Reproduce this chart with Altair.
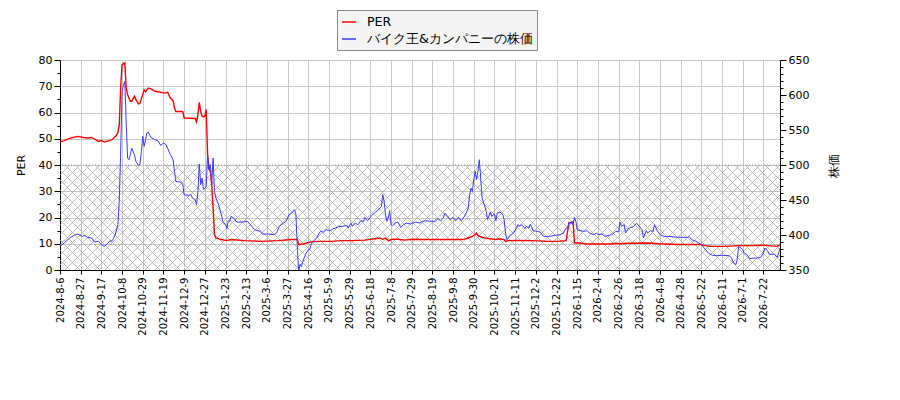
import json
import altair as alt
import pandas as pd

# ---------------- data ----------------
date_labels = ["2024-8-6", "2024-8-27", "2024-9-17", "2024-10-8", "2024-10-29", "2024-11-19",
               "2024-12-9", "2024-12-27", "2025-1-23", "2025-2-13", "2025-3-6", "2025-3-27",
               "2025-4-16", "2025-5-9", "2025-5-29", "2025-6-18", "2025-7-8", "2025-7-29",
               "2025-8-19", "2025-9-8", "2025-9-30", "2025-10-21", "2025-11-11", "2025-12-2",
               "2025-12-22", "2026-1-15", "2026-2-4", "2026-2-26", "2026-3-18", "2026-4-8",
               "2026-4-28", "2026-5-22", "2026-6-11", "2026-7-1", "2026-7-22"]
tick_days = list(range(0, 511, 15))
last_day = 522

per_day = [0, 3, 8, 13, 17, 20, 23, 25, 28, 30,
           32, 36, 38, 41, 42, 43, 44, 45, 47, 48,
           49, 51, 52, 54, 55, 57, 58, 60, 61, 62,
           64, 66, 69, 72, 76, 78, 80, 82, 83, 84,
           89, 90, 98, 99, 100, 101, 102, 103, 105, 106,
           107, 108, 109, 110, 111, 112, 113, 117, 121, 124,
           134, 146, 158, 168, 172, 173, 176, 179, 182, 187,
           197, 204, 211, 221, 228, 232, 234, 236, 238, 241,
           245, 250, 255, 264, 284, 292, 296, 299, 301, 302,
           303, 306, 308, 312, 316, 318, 322, 323, 325, 333,
           342, 354, 361, 367, 368, 369, 372, 373, 376, 382,
           400, 403, 406, 412, 427, 434, 448, 464, 467, 471,
           482, 492, 502, 510, 514, 520, 522]
per_val = [48.8, 49.3, 50.3, 50.9, 50.5, 50.3, 50.5, 49.9, 49.0, 49.3,
           48.8, 49.3, 49.8, 51.3, 52.5, 55.5, 70.0, 78.2, 78.9, 69.3,
           66.8, 64.3, 64.3, 66.2, 64.9, 63.2, 63.6, 66.8, 68.7, 67.8,
           69.3, 69.0, 68.1, 67.8, 67.4, 67.7, 65.5, 64.5, 61.7, 60.4,
           60.4, 57.9, 57.7, 56.4, 59.2, 63.9, 60.4, 58.5, 58.5, 61.1,
           44.0, 38.5, 37.6, 32.5, 23.6, 13.5, 12.2, 11.6, 11.2, 11.6,
           11.2, 10.9, 11.2, 11.6, 11.6, 9.7, 9.9, 10.3, 10.7, 10.9,
           10.9, 11.2, 11.2, 11.4, 11.9, 12.2, 11.7, 12.2, 11.2, 11.7,
           11.7, 11.4, 11.7, 11.6, 11.6, 11.6, 12.2, 12.8, 13.5, 14.1,
           13.2, 12.4, 12.2, 11.9, 11.6, 11.9, 11.6, 10.9, 11.2, 11.3,
           11.2, 10.9, 10.9, 11.2, 14.7, 17.9, 18.3, 10.3, 10.3, 9.9,
           9.9, 10.2, 10.0, 10.2, 10.3, 10.0, 9.7, 9.7, 9.4, 9.0,
           9.0, 9.3, 9.3, 9.4, 9.3, 9.0, 9.7]

price_day = [0, 3, 7, 11, 13, 16, 18, 20, 23, 25,
             28, 30, 32, 34, 36, 38, 40, 42, 43, 44,
             45, 46, 47, 48, 49, 50, 51, 52, 54, 55,
             57, 58, 59, 60, 61, 62, 63, 64, 66, 69,
             71, 73, 75, 77, 78, 80, 82, 83, 84, 87,
             89, 90, 93, 95, 96, 98, 99, 100, 101, 102,
             103, 104, 105, 106, 107, 108, 109, 110, 111, 112,
             113, 115, 117, 118, 120, 121, 122, 123, 124, 126,
             128, 132, 136, 139, 141, 145, 147, 151, 155, 157,
             159, 162, 164, 166, 168, 170, 171, 172, 173, 174,
             175, 176, 177, 178, 180, 181, 182, 183, 186, 188,
             189, 191, 193, 196, 198, 200, 202, 205, 208, 209,
             211, 212, 214, 216, 218, 220, 221, 223, 225, 226,
             228, 231, 233, 234, 235, 236, 237, 238, 239, 240,
             241, 243, 245, 247, 249, 251, 254, 256, 258, 261,
             263, 266, 268, 272, 274, 276, 278, 279, 281, 283,
             285, 287, 289, 291, 294, 296, 297, 298, 299, 300,
             301, 302, 303, 304, 305, 306, 308, 309, 310, 312,
             313, 315, 316, 317, 319, 321, 322, 323, 324, 326,
             328, 330, 332, 333, 335, 337, 338, 340, 341, 343,
             346, 348, 350, 351, 355, 359, 363, 365, 367, 368,
             369, 370, 371, 372, 373, 374, 375, 377, 380, 382,
             384, 387, 389, 390, 393, 395, 398, 400, 403, 405,
             406, 407, 409, 410, 412, 413, 416, 418, 420, 422,
             423, 425, 426, 428, 430, 431, 433, 435, 438, 441,
             446, 451, 455, 456, 458, 461, 463, 465, 468, 470,
             473, 476, 480, 485, 487, 488, 490, 491, 492, 493,
             495, 496, 498, 500, 503, 505, 508, 510, 511, 513,
             514, 516, 518, 520, 521, 522]
price_val = [383.8, 388.6, 395.7, 400.5, 401.4, 398.0, 399.5, 396.6, 395.7, 390.0,
             391.0, 386.2, 383.8, 387.0, 391.0, 392.0, 400.5, 414.7, 450.0, 520.0,
             605.0, 614.7, 619.4, 560.0, 510.0, 507.6, 514.7, 524.0, 514.7, 505.0,
             499.5, 501.4, 519.5, 540.9, 526.6, 536.0, 545.6, 547.0, 539.4, 536.0,
             534.7, 528.0, 531.4, 529.0, 524.0, 514.7, 507.6, 491.0, 476.6, 475.7,
             472.8, 457.6, 456.6, 457.6, 452.8, 450.4, 443.3, 462.3, 501.4, 471.9,
             481.4, 465.0, 467.0, 470.0, 514.7, 493.3, 500.4, 471.9, 510.0, 462.3,
             452.8, 443.3, 429.0, 419.5, 414.7, 409.0, 420.4, 419.5, 426.6, 424.3,
             418.5, 418.5, 419.5, 412.3, 407.6, 405.2, 401.4, 401.4, 400.5, 402.8,
             412.3, 417.0, 419.5, 429.0, 431.4, 436.2, 430.0, 386.0, 347.0, 358.0,
             355.0, 362.0, 367.0, 372.0, 379.0, 379.0, 386.0, 390.0, 395.7, 402.8,
             405.2, 404.0, 407.6, 406.0, 409.0, 410.0, 412.3, 412.3, 413.8, 410.0,
             417.0, 412.3, 417.0, 414.7, 420.4, 419.5, 425.2, 420.4, 425.2, 428.0,
             431.4, 436.2, 441.0, 457.6, 448.0, 429.0, 419.5, 424.3, 434.7, 414.7,
             413.3, 417.0, 418.5, 411.0, 414.7, 417.0, 415.7, 417.0, 418.5, 417.0,
             419.5, 420.4, 419.5, 419.5, 423.3, 420.4, 424.3, 431.4, 426.6, 421.9,
             425.2, 420.4, 425.2, 420.4, 429.0, 438.5, 457.6, 467.0, 462.3, 479.0,
             491.0, 479.0, 491.0, 507.6, 481.4, 452.8, 441.0, 433.8, 421.9, 432.8,
             426.6, 430.0, 420.4, 431.4, 432.8, 429.0, 421.9, 402.8, 393.3, 398.0,
             401.4, 406.2, 414.7, 412.3, 414.7, 409.0, 412.3, 410.0, 415.7, 406.2,
             405.2, 404.3, 399.0, 398.0, 398.0, 399.5, 400.5, 402.8, 410.0, 410.0,
             418.5, 417.0, 419.5, 414.7, 425.2, 419.5, 407.6, 406.2, 405.2, 406.2,
             402.8, 400.5, 402.8, 400.5, 401.4, 398.0, 399.5, 400.5, 405.2, 404.3,
             418.5, 412.3, 414.7, 402.8, 409.0, 410.0, 412.3, 417.0, 412.3, 407.6,
             395.7, 406.2, 402.8, 406.2, 405.2, 414.7, 406.2, 400.5, 398.0, 398.0,
             397.0, 396.6, 396.6, 398.0, 393.3, 391.0, 388.6, 386.2, 379.0, 374.3,
             371.0, 370.5, 371.0, 370.5, 367.0, 361.4, 357.6, 364.8, 383.8, 382.4,
             379.0, 374.3, 372.0, 366.2, 367.0, 367.0, 368.0, 374.3, 381.4, 377.6,
             372.8, 372.0, 372.8, 368.0, 374.3, 381.4]

PER_NAME = "PER"
PRICE_NAME = "バイク王&カンパニーの株価"
hatch_top = 40  # PER level of the hatched band

# ---------------- layout ----------------
W, H = 720, 210
FONT = "DejaVu Sans"

per_df = pd.DataFrame({"day": per_day, "value": per_val, "series": PER_NAME})
price_df = pd.DataFrame({"day": price_day, "value": price_val, "series": PRICE_NAME})

# cross-hatch pattern for the 0-40 band (45 degree lines, ~10 px apart)
px_per_day = W / last_day
run = (H * hatch_top / 80) / px_per_day
step = 10 / px_per_day
rows = []
k = -run
while k < last_day + step:
    rows.append({"x": k, "x2": k + run, "y": 0, "y2": hatch_top})
    rows.append({"x": k, "x2": k + run, "y": hatch_top, "y2": 0})
    k += step
hatch_df = pd.DataFrame(rows)

labels_js = json.dumps(date_labels, ensure_ascii=False)

xscale = alt.Scale(domain=[0, last_day], nice=False, zero=False)
per_scale = alt.Scale(domain=[0, 80], nice=False)
price_scale = alt.Scale(domain=[350, 650], nice=False, zero=False)

xaxis = alt.Axis(values=tick_days,
                 labelExpr=f"{labels_js}[round(datum.value/15)]",
                 labelAngle=270, labelAlign="right", labelBaseline="middle",
                 labelFlush=False, labelOverlap=False, labelFontSize=10,
                 labelPadding=3, tickSize=4, grid=True, gridColor="#c8c8c8",
                 title=None)

per_axis = alt.Axis(title="PER", values=list(range(0, 81, 5)),
                    labelExpr="datum.value % 10 === 0 ? datum.label : ''",
                    tickSize={"condition": {"test": "datum.value % 10 === 0", "value": 6}, "value": 3},
                    gridOpacity={"condition": {"test": "datum.value % 10 === 0", "value": 1}, "value": 0},
                    grid=True, gridColor="#c8c8c8", labelFontSize=11,
                    titleFontSize=11, titleFontWeight="normal", titlePadding=12)

price_axis = alt.Axis(title="株価", orient="right", values=list(range(350, 651, 10)),
                      labelExpr="datum.value % 50 === 0 ? datum.label : ''",
                      tickSize={"condition": {"test": "datum.value % 50 === 0", "value": 6}, "value": 3},
                      grid=False, labelFontSize=11, titleFontSize=12,
                      titleFontWeight="normal", titleAngle=270, titlePadding=32)

color = alt.Color("series:N",
                  scale=alt.Scale(domain=[PER_NAME, PRICE_NAME], range=["#ff0000", "#3a3aff"]),
                  legend=alt.Legend(title=None, orient="none", legendX=277, legendY=-50,
                                    direction="vertical", symbolType="stroke", symbolSize=196,
                                    symbolStrokeWidth=1.5, labelFontSize=12.6, labelOffset=10,
                                    labelLimit=400, labelFont=FONT, padding=4, rowPadding=2,
                                    fillColor="#f5f5f5", strokeColor="#888888"))

hatch = alt.Chart(hatch_df).mark_rule(color="#a0a0a0", strokeWidth=0.7, clip=True).encode(
    x=alt.X("x:Q", scale=xscale, axis=xaxis),
    x2="x2:Q",
    y=alt.Y("y:Q", scale=per_scale, axis=per_axis),
    y2="y2:Q",
)

top_edge = alt.Chart(pd.DataFrame({"y": [hatch_top]})).mark_rule(
    color="#a0a0a0", strokeDash=[1, 2], strokeWidth=1).encode(
    y=alt.Y("y:Q", scale=per_scale, axis=per_axis),
)

per_line = alt.Chart(per_df).mark_line(strokeWidth=1.4, clip=True).encode(
    x=alt.X("day:Q", scale=xscale, axis=xaxis),
    y=alt.Y("value:Q", scale=per_scale, axis=per_axis),
    color=color,
)

price_line = alt.Chart(price_df).mark_line(strokeWidth=1, clip=True).encode(
    x=alt.X("day:Q", scale=xscale, axis=xaxis),
    y=alt.Y("value:Q", scale=price_scale, axis=price_axis),
    color=color,
)

left = alt.layer(hatch, top_edge, per_line)

chart = alt.layer(left, price_line).resolve_scale(y="independent").properties(
    width=W, height=H,
    autosize=alt.AutoSizeParams(type="none"),
    padding={"left": 52, "top": 52, "right": 104, "bottom": 112},
).configure_view(stroke=None).configure_axis(
    labelFont=FONT, titleFont=FONT, labelColor="black", titleColor="black",
    domainColor="black", tickColor="black",
).configure_legend(labelColor="black")

chart.save("out.html", embed_options={"renderer": "svg", "actions": False})
